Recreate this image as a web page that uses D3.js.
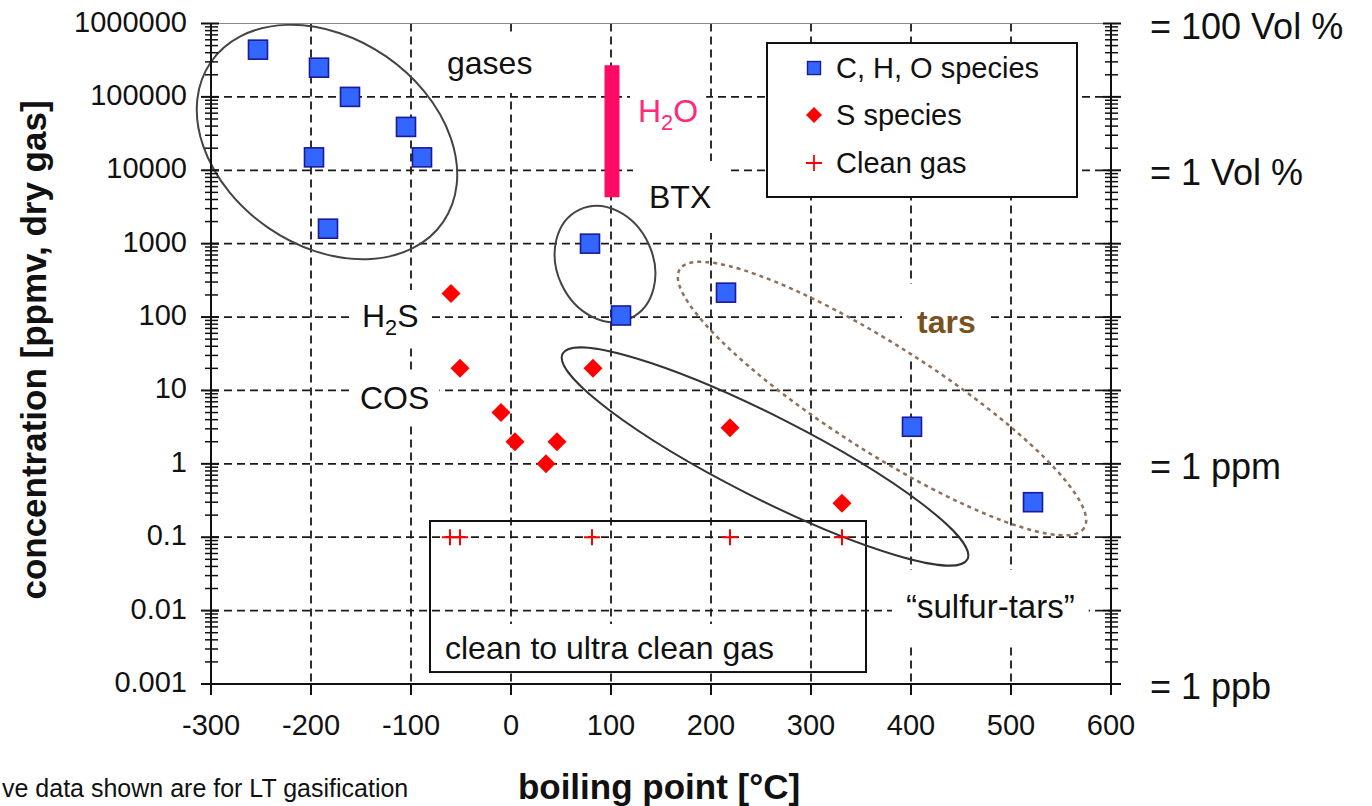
<!DOCTYPE html>
<html><head><meta charset="utf-8">
<script src="https://cdn.jsdelivr.net/npm/d3@7"></script>
<style>
body{margin:0;background:#fff;}
svg{display:block;font-family:"Liberation Sans",Arial,sans-serif;}
</style></head><body>
<svg id="c" width="1372" height="806"></svg>
<script>
// ---------- data ----------
const xTicks = [-300,-200,-100,0,100,200,300,400,500,600];
const yTicks = [1e-3,1e-2,1e-1,1,10,100,1000,10000,100000,1000000];
const yTickLabels = ["0.001","0.01","0.1","1","10","100","1000","10000","100000","1000000"];
const choBoiling = [-253,-192,-197,-161,-105,-89,-183,79,110,215,401,522];
const choConc    = [440000,250000,15000,100000,39000,15000,1600,1000,105,215,3.2,0.3];
const sBoiling = [-60,-51,-10,4,35,46,82,219,331];
const sConc    = [210,20,5,2,1,2,20,3.1,0.29];
const cleanBoiling = [-61,-51,81,219,331];
const cleanConc    = [0.1,0.1,0.1,0.1,0.1];
const h2oBoiling = 101;
const h2oRange = [4300, 270000];
const rightLabels = ["= 100 Vol %","= 1 Vol %","= 1 ppm","= 1 ppb"];
const rightLabelValues = [1e6,1e4,1,1e-3];
const legendLabels = ["C, H, O species","S species","Clean gas"];

// ---------- scales ----------
const x = d3.scaleLinear().domain([-300,600]).range([211,1111]);
const y = d3.scaleLog().domain([1e-3,1e6]).range([684,23.5]);
const P = (L)=>Math.pow(10,L);

const svg = d3.select("#c");
const gGrid = svg.append("g");
const gBg = svg.append("g");
const gBox = svg.append("g");
const gEll = svg.append("g");
const gMarks = svg.append("g");
const gAxis = svg.append("g");
const gText = svg.append("g");

// ---------- grid ----------
gGrid.selectAll("line.gx").data(xTicks.filter(v=>v>-300&&v<600)).join("line")
  .attr("x1",d=>x(d)).attr("x2",d=>x(d)).attr("y1",y(1e6)).attr("y2",y(1e-3))
  .attr("stroke","#1a1a1a").attr("stroke-width",1.8).attr("stroke-dasharray","8,5");
gGrid.selectAll("line.gy").data(yTicks.filter(v=>v>1e-3&&v<1e6)).join("line")
  .attr("x1",x(-300)).attr("x2",x(600)).attr("y1",d=>y(d)).attr("y2",d=>y(d))
  .attr("stroke","#1a1a1a").attr("stroke-width",1.8).attr("stroke-dasharray","8,5");

// ---------- boxes ----------
const legendBox = {x0:256,x1:566,y0:P(5.734),y1:P(3.636)};
gBox.append("rect").attr("x",x(legendBox.x0)).attr("y",y(legendBox.y0))
  .attr("width",x(legendBox.x1)-x(legendBox.x0)).attr("height",y(legendBox.y1)-y(legendBox.y0))
  .attr("fill","#fff").attr("stroke","#111").attr("stroke-width",2);
const cleanBox = {x0:-81,x1:355,y0:P(-0.779),y1:P(-2.837)};
gBox.append("rect").attr("x",x(cleanBox.x0)).attr("y",y(cleanBox.y0))
  .attr("width",x(cleanBox.x1)-x(cleanBox.x0)).attr("height",y(cleanBox.y1)-y(cleanBox.y0))
  .attr("fill","none").attr("stroke","#111").attr("stroke-width",2);

// ---------- ellipses (center in data units, radii in px) ----------
const ellipses = [
  {cx:-184, cy:P(4.385), a:141, b:104, rot:34.6, stroke:"#444", dash:null, w:2},
  {cx:94,   cy:P(2.723), a:60,  b:48,  rot:65,   stroke:"#444", dash:null, w:2},
  {cx:254,  cy:P(0.10),  a:227, b:41,  rot:26.9, stroke:"#333", dash:null, w:2},
  {cx:371,  cy:P(0.89),  a:240, b:53,  rot:32.6, stroke:"#8f7058", dash:"4,4", w:2.5}
];
ellipses.forEach(e=>{
  const cx=x(e.cx), cy=y(e.cy);
  const el = gEll.append("ellipse").attr("cx",cx).attr("cy",cy).attr("rx",e.a).attr("ry",e.b)
    .attr("transform",`rotate(${e.rot},${cx},${cy})`)
    .attr("fill","none").attr("stroke",e.stroke).attr("stroke-width",e.w);
  if(e.dash) el.attr("stroke-dasharray",e.dash);
});

// ---------- H2O bar ----------
gMarks.append("line").attr("x1",x(h2oBoiling)).attr("x2",x(h2oBoiling))
  .attr("y1",y(h2oRange[0])).attr("y2",y(h2oRange[1]))
  .attr("stroke","#ff0a64").attr("stroke-width",15);

// ---------- markers ----------
const sq=19;
gMarks.selectAll("rect.cho").data(choBoiling.map((b,i)=>[b,choConc[i]])).join("rect")
  .attr("x",d=>x(d[0])-sq/2).attr("y",d=>y(d[1])-sq/2).attr("width",sq).attr("height",sq)
  .attr("fill","#3366ff").attr("stroke","#1a1a9a").attr("stroke-width",1.6);
const dia=9.5;
gMarks.selectAll("path.s").data(sBoiling.map((b,i)=>[b,sConc[i]])).join("path")
  .attr("d",d=>{const cx=x(d[0]),cy=y(d[1]);return `M${cx},${cy-dia}L${cx+dia},${cy}L${cx},${cy+dia}L${cx-dia},${cy}Z`;})
  .attr("fill","#ff0000");
const pl=8;
gMarks.selectAll("path.cl").data(cleanBoiling.map((b,i)=>[b,cleanConc[i]])).join("path")
  .attr("d",d=>{const cx=x(d[0]),cy=y(d[1]);return `M${cx-pl},${cy}H${cx+pl}M${cx},${cy-pl}V${cy+pl}`;})
  .attr("stroke","#ff0000").attr("stroke-width",2).attr("fill","none");

// ---------- axes ----------
const minor=[];
yTicks.slice(0,-1).forEach(d=>{for(let m=2;m<=9;m++) minor.push(m*d);});
gAxis.append("line").attr("x1",x(-300)).attr("x2",x(600)).attr("y1",y(1e6)).attr("y2",y(1e6))
  .attr("stroke","#888").attr("stroke-width",1);
[x(-300),x(600)].forEach((ax,k)=>{
  gAxis.append("line").attr("x1",ax).attr("x2",ax).attr("y1",y(1e6)).attr("y2",y(1e-3))
    .attr("stroke","#111").attr("stroke-width",2);
  gAxis.selectAll(null).data(minor).join("line")
    .attr("x1",ax-6).attr("x2",ax+7).attr("y1",d=>y(d)).attr("y2",d=>y(d))
    .attr("stroke","#111").attr("stroke-width",1.5);
  gAxis.selectAll(null).data(yTicks).join("line")
    .attr("x1",k===0?ax-10:ax-8).attr("x2",k===0?ax+8:ax+10).attr("y1",d=>y(d)).attr("y2",d=>y(d))
    .attr("stroke","#111").attr("stroke-width",2);
});
gAxis.append("line").attr("x1",x(-300)).attr("x2",x(600)).attr("y1",y(1e-3)).attr("y2",y(1e-3))
  .attr("stroke","#111").attr("stroke-width",2);
gAxis.selectAll("line.xt").data(xTicks).join("line")
  .attr("x1",d=>x(d)).attr("x2",d=>x(d)).attr("y1",y(1e-3)).attr("y2",y(1e-3)+11)
  .attr("stroke","#111").attr("stroke-width",2);

// tick labels
gText.selectAll("text.yl").data(yTicks).join("text")
  .attr("x",187).attr("y",d=>y(d)+8).attr("text-anchor","end")
  .attr("font-size",29).attr("fill","#111").text((d,i)=>yTickLabels[i]);
gText.selectAll("text.xl").data(xTicks).join("text")
  .attr("x",d=>x(d)).attr("y",735).attr("text-anchor","middle")
  .attr("font-size",29).attr("fill","#111").text(d=>d);
gText.selectAll("text.rl").data(rightLabelValues).join("text")
  .attr("x",1150).attr("y",d=>y(d)+15).attr("font-size",36).attr("fill","#111")
  .text((d,i)=>rightLabels[i]);

// titles
gText.append("text").attr("transform",`translate(46,350) rotate(-90)`).attr("text-anchor","middle")
  .attr("font-size",35).attr("font-weight","bold").attr("fill","#111").text("concentration [ppmv, dry gas]");
gText.append("text").attr("x",659).attr("y",799).attr("text-anchor","middle")
  .attr("font-size",35).attr("font-weight","bold").attr("fill","#111").text("boiling point [°C]");
gText.append("text").attr("x",2).attr("y",797).attr("font-size",25).attr("fill","#111")
  .text("ve data shown are for LT gasification");

// ---------- annotation labels (anchors in data units) ----------
function label(bx, by, parts, opts){
  const t = gText.append("text").attr("x",x(bx)).attr("y",y(by))
    .attr("font-size",opts.size||32).attr("fill",opts.color||"#111");
  if(opts.bold) t.attr("font-weight","bold");
  parts.forEach(p=>{
    const ts=t.append("tspan").text(p.t);
    if(p.sub){ ts.attr("font-size",(opts.size||32)*0.68).attr("dy",8); }
    if(p.after){ ts.attr("dy",-8); }
  });
  if(opts.bg){
    const bb=t.node().getBBox();
    gBg.append("rect").attr("x",bb.x-opts.bg[0]).attr("y",bb.y-opts.bg[1])
      .attr("width",bb.width+2*opts.bg[0]).attr("height",bb.height+2*opts.bg[1]).attr("fill","#fff");
  }
  return t;
}
label(-64, P(5.312), [{t:"gases"}], {bg:[12,12]});
label(127, P(4.658), [{t:"H"},{t:"2",sub:true},{t:"O",after:true}], {color:"#ff2a78",bg:[8,14]});
label(138, P(3.486), [{t:"BTX"}], {bg:[16,18]});
label(-149, P(1.864), [{t:"H"},{t:"2",sub:true},{t:"S",after:true}], {bg:[10,8]});
label(-151, P(0.747), [{t:"COS"}], {bg:[10,8]});
label(406, P(1.783), [{t:"tars"}], {bold:true,color:"#7a5222",bg:[15,20]});
label(395, P(-2.101), [{t:"“sulfur-tars”"}], {size:33,bg:[14,18]});
label(-66, P(-2.659), [{t:"clean to ultra clean gas"}], {bg:[6,6]});

// ---------- legend ----------
const lx = x(legendBox.x0), ly = y(legendBox.y0);
const rows=[25,72,120];
gText.selectAll("text.lg").data(legendLabels).join("text")
  .attr("x",lx+69).attr("y",(d,i)=>ly+rows[i]+10).attr("font-size",29).attr("fill","#111").text(d=>d);
gMarks.append("rect").attr("x",lx+47-6.5).attr("y",ly+rows[0]-6.5).attr("width",13).attr("height",13)
  .attr("fill","#3366ff").attr("stroke","#1a1a9a").attr("stroke-width",1.4);
{const cx=lx+47, cy=ly+rows[1], r=8;
 gMarks.append("path").attr("d",`M${cx},${cy-r}L${cx+r},${cy}L${cx},${cy+r}L${cx-r},${cy}Z`).attr("fill","#ff0000");}
{const cx=lx+47, cy=ly+rows[2], r=8;
 gMarks.append("path").attr("d",`M${cx-r},${cy}H${cx+r}M${cx},${cy-r}V${cy+r}`).attr("stroke","#ff0000").attr("stroke-width",1.8);}
</script>
</body></html>
